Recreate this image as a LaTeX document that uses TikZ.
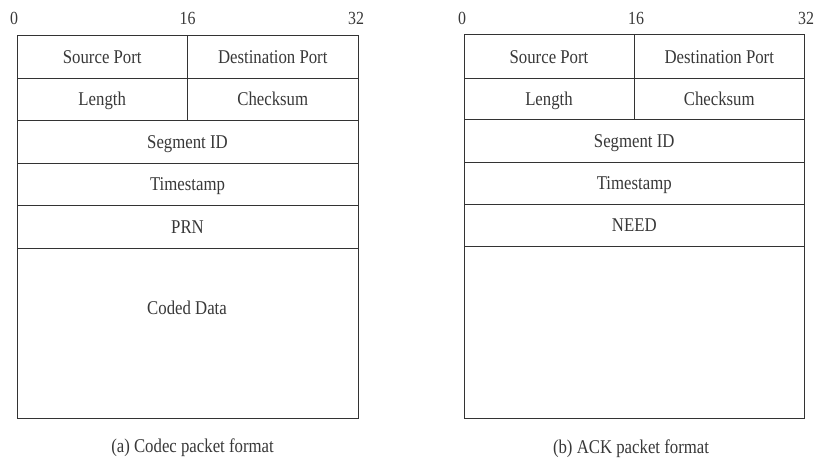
\documentclass[tikz,border=0pt]{standalone}
\usepackage{fontspec}
\setmainfont[FakeStretch=0.86]{Liberation Serif}
\begin{document}
\begin{tikzpicture}[x=1pt,y=-1pt,
  cell/.style={draw=black!80,line width=1pt,anchor=north west,inner sep=0pt,
    text=black!78,font=\fontsize{19.5}{22}\selectfont,text height=13pt,text depth=0pt},
  lbl/.style={inner sep=0pt,text=black!78,font=\fontsize{19.5}{22}\selectfont,text height=13pt,text depth=0pt},
  num/.style={inner sep=0pt,text=black!78,font=\fontsize{18.5}{20}\selectfont,text height=12.5pt,text depth=0pt}]
\useasboundingbox (0,0) rectangle (815,458);
% ---------- (a) ----------
\node[num] (a0) at (14,18.5) {0};
\node[num] (a16) at (187.5,18.5) {16};
\node[num] (a32) at (356,18.5) {32};
\node[cell,minimum width=170.5pt,minimum height=43.5pt] (asp) at (16.5,34.5) {Source Port};
\node[cell,minimum width=170.5pt,minimum height=43.5pt] (adp) at (187,34.5) {Destination Port};
\node[cell,minimum width=170.5pt,minimum height=41.5pt] (alen) at (16.5,78) {Length};
\node[cell,minimum width=170.5pt,minimum height=41.5pt] (acs) at (187,78) {Checksum};
\node[cell,minimum width=341pt,minimum height=43pt] (aseg) at (16.5,119.5) {Segment ID};
\node[cell,minimum width=341pt,minimum height=42.5pt] (ats) at (16.5,162.5) {Timestamp};
\node[cell,minimum width=341pt,minimum height=42.5pt] (aprn) at (16.5,205) {PRN};
\node[cell,minimum width=341pt,minimum height=170pt] (adata) at (16.5,247.5) {};
\node[lbl] (adatal) at (187,308) {Coded Data};
\node[lbl] (acap) at (192.5,446) {(a) Codec packet format};
% ---------- (b) ----------
\node[num] (b0) at (462,18.5) {0};
\node[num] (b16) at (636,18.5) {16};
\node[num] (b32) at (806,18.5) {32};
\node[cell,minimum width=170pt,minimum height=43.4pt] (bsp) at (463.5,34.3) {Source Port};
\node[cell,minimum width=170.5pt,minimum height=43.4pt] (bdp) at (633.5,34.3) {Destination Port};
\node[cell,minimum width=170pt,minimum height=41.6pt] (blen) at (463.5,77.7) {Length};
\node[cell,minimum width=170.5pt,minimum height=41.6pt] (bcs) at (633.5,77.7) {Checksum};
\node[cell,minimum width=340.5pt,minimum height=42.4pt] (bseg) at (463.5,119.3) {Segment ID};
\node[cell,minimum width=340.5pt,minimum height=41.8pt] (bts) at (463.5,161.7) {Timestamp};
\node[cell,minimum width=340.5pt,minimum height=42.5pt] (bneed) at (463.5,203.5) {NEED};
\node[cell,minimum width=340.5pt,minimum height=171.7pt] (bdata) at (463.5,246) {};
\node[lbl] (bcap) at (631,446.5) {(b) ACK packet format};
\end{tikzpicture}
\end{document}
